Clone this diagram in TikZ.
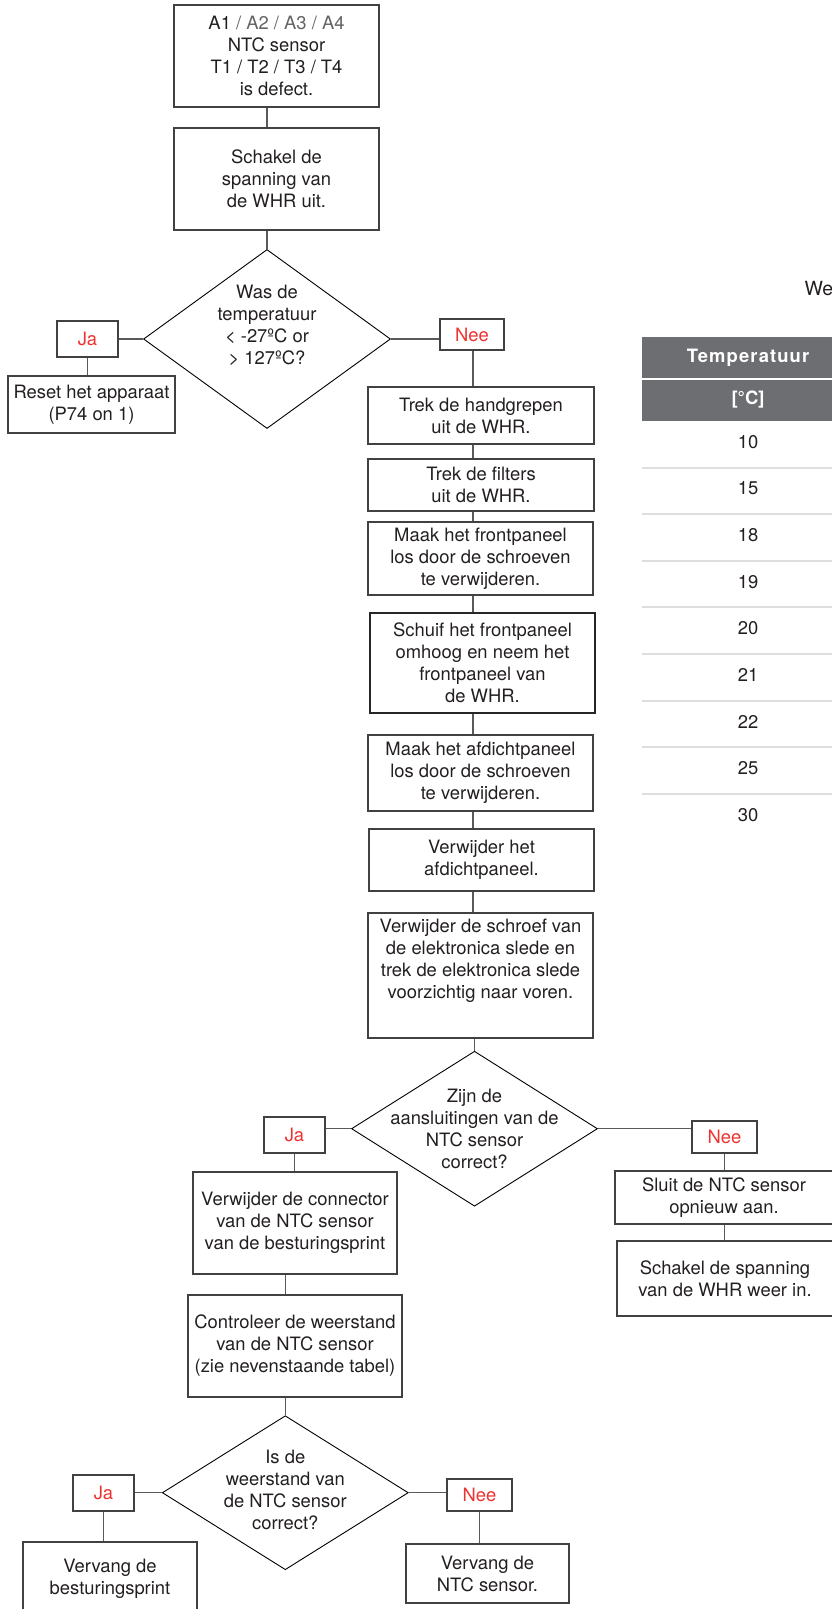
\documentclass[tikz,border=0pt]{standalone}
\usepackage{fontspec}
\setmainfont{TeX Gyre Heros}
\usepackage{tikz}
\usetikzlibrary{shapes.geometric,positioning}

\definecolor{inkc}{RGB}{35,31,32}
\definecolor{framec}{RGB}{65,64,66}
\definecolor{wirec}{RGB}{88,89,91}
\definecolor{redc}{RGB}{237,50,47}
\definecolor{dimc}{RGB}{100,100,102}
\definecolor{headc}{RGB}{109,110,113}
\definecolor{rulec}{RGB}{222,222,222}

\begin{document}
\begin{tikzpicture}[x=1pt, y=-1pt,
  font=\fontsize{18.4}{22}\selectfont,
  box/.style={draw=framec, line width=1.2pt, align=center, inner sep=2pt, text=inkc},
  ask/.style={draw=black, line width=0.9pt, shape=diamond, inner sep=0pt,
    minimum width=246pt, minimum height=155pt},
  asktext/.style={align=center, text=inkc},
  answer/.style={box, minimum width=61pt, minimum height=36pt, text=redc},
  wire/.style={draw=wirec, line width=1.4pt}
]
  \useasboundingbox (0,0) rectangle (832,1609);
  \clip (0,0) rectangle (832,1609);

  % main column
  \node[box, minimum width=205pt, minimum height=102pt] (fault) at (276.5,56)
    {A1 \textcolor{dimc}{/ A2 / A3 / A4}\\NTC sensor\\T1 / T2 / T3 / T4\\is defect.};
  \node[box, minimum width=205pt, minimum height=102pt] (poweroff) at (276.5,179)
    {Schakel de\\spanning van\\de WHR uit.};
  \node[ask, minimum width=247pt, minimum height=179pt] (q1) at (267,339) {};
  \node[asktext, yshift=14pt] (q1t) at (q1) {Was de\\temperatuur\\< -27ºC or\\> 127ºC?};
  \node[answer] (yes1) at (87.5,339) {Ja};
  \node[box, minimum width=167pt, minimum height=57pt] (reset) at (91.5,404.5)
    {Reset het apparaat\\(P74 on 1)};
  \node[answer, minimum width=64pt, minimum height=31pt] (no1) at (472,334.5) {Nee};

  \coordinate (spine) at (473,0);
  \node[box, minimum width=226pt, minimum height=57pt] (grips) at (481,415.5)
    {Trek de handgrepen\\uit de WHR.};
  \node[box, minimum width=226pt, minimum height=52pt] (filters) at (481,485)
    {Trek de filters\\uit de WHR.};
  \node[box, minimum width=225pt, minimum height=73pt] (front) at (480.5,558.5)
    {Maak het frontpaneel\\los door de schroeven\\te verwijderen.};
  \node[box, draw=black!85, line width=2pt, minimum width=225pt, minimum height=100pt] (slide) at (482.5,663)
    {Schuif het frontpaneel\\omhoog en neem het\\frontpaneel van\\de WHR.};
  \node[box, minimum width=225pt, minimum height=76pt] (seal) at (480.5,773)
    {Maak het afdichtpaneel\\los door de schroeven\\te verwijderen.};
  \node[box, minimum width=225pt, minimum height=62pt] (sealoff) at (481.5,860)
    {Verwijder het\\afdichtpaneel.};
  \node[box, minimum width=225pt, minimum height=125pt] (sled) at (480.5,975.5)
    {Verwijder de schroef van\\de elektronica slede en\\trek de elektronica slede\\voorzichtig naar voren.\\[11pt]~};

  \node[ask] (q2) at (474.5,1128.7) {};
  \node[asktext] (q2t) at (q2) {Zijn de\\aansluitingen van de\\NTC sensor\\correct?};
  \node[answer] (yes2) at (294.5,1135) {Ja};
  \node[box, minimum width=204pt, minimum height=102pt] (unplug) at (295,1223)
    {Verwijder de connector\\van de NTC sensor\\van de besturingsprint};
  \node[box, minimum width=214pt, minimum height=102pt] (measure) at (295,1346)
    {Controleer de weerstand\\van de NTC sensor\\(zie nevenstaande tabel)};
  \node[answer, minimum width=65pt, minimum height=32pt] (no2) at (724.5,1137) {Nee};
  \node[box, minimum width=218pt, minimum height=53pt] (reconnect) at (724,1197.5)
    {Sluit de NTC sensor\\opnieuw aan.};
  \node[box, minimum width=216pt, minimum height=75pt] (poweron) at (725,1278.5)
    {Schakel de spanning\\van de WHR weer in.};

  \node[ask, minimum height=154pt] (q3) at (285.3,1492.7) {};
  \node[asktext, yshift=3pt] (q3t) at (q3) {Is de\\weerstand van\\de NTC sensor\\correct?};
  \node[answer] (yes3) at (103.5,1493) {Ja};
  \node[box, minimum width=174pt, minimum height=74pt] (newpcb) at (110,1579)
    {Vervang de\\besturingsprint};
  \node[answer, minimum width=65pt, minimum height=32pt] (no3) at (479.5,1495) {Nee};
  \node[box, minimum width=163pt, minimum height=59pt] (newntc) at (487.5,1573.5)
    {Vervang de\\NTC sensor.};

  % connectors
  \draw[wire] (fault.south -| q1.north) -- (poweroff.north -| q1.north);
  \draw[wire] (poweroff.south -| q1.north) -- (q1.north);
  \draw[wire] (q1.west) -- (q1.west -| yes1.east);
  \draw[wire] (yes1.south) -- (yes1.south |- reset.north);
  \draw[wire] (q1.east) -- (q1.east -| no1.west);
  \draw[wire] (no1.south -| spine) -- (grips.north -| spine);
  \foreach \a/\b in {grips/filters, filters/front, front/slide, slide/seal, seal/sealoff, sealoff/sled}
    \draw[wire] (\a.south -| spine) -- (\b.north -| spine);
  \draw[wire] (sled.south -| q2.north) -- (q2.north);
  \draw[wire] (q2.west) -- (q2.west -| yes2.east);
  \draw[wire] (yes2.south) -- (yes2.south |- unplug.north);
  \draw[wire] (unplug.south -| q3.north) -- (measure.north -| q3.north);
  \draw[wire] (measure.south -| q3.north) -- (q3.north);
  \draw[wire] (q2.east) -- (q2.east -| no2.west);
  \draw[wire] (no2.south) -- (no2.south |- reconnect.north);
  \draw[wire] (reconnect.south -| no2.south) -- (poweron.north -| no2.south);
  \draw[wire] (q3.west) -- (q3.west -| yes3.east);
  \draw[wire] (yes3.south) -- (yes3.south |- newpcb.north);
  \draw[wire] (q3.east) -- (q3.east -| no3.west);
  \draw[wire] (no3.south) -- (no3.south |- newntc.north);

  % table (cut off at the right)
  \node[anchor=base west, font=\fontsize{19.5}{22}\selectfont, text=inkc] (title) at (801,295.5) {We};
  \fill[headc] (642,337) rectangle (854,421);
  \draw[white, line width=1.5pt] (642,379) -- (854,379);
  \node[text=white, font=\fontsize{18.4}{22}\selectfont\bfseries\addfontfeature{LetterSpace=6}] (thead) at (748,358) {Temperatuur};
  \node[text=white, font=\fontsize{18.4}{22}\selectfont\bfseries] (tunit) at (748,400) {[°C]};
  \foreach \t [count=\i] in {10,15,18,19,20,21,22,25,30}
    \node[text=inkc] (row\i) at (748,{442+(\i-1)*46.6}) {\t};
  \foreach \i in {1,...,8}
    \draw[rulec, line width=2pt] (642,{467.5+(\i-1)*46.6}) -- ++(212,0);
\end{tikzpicture}
\end{document}
